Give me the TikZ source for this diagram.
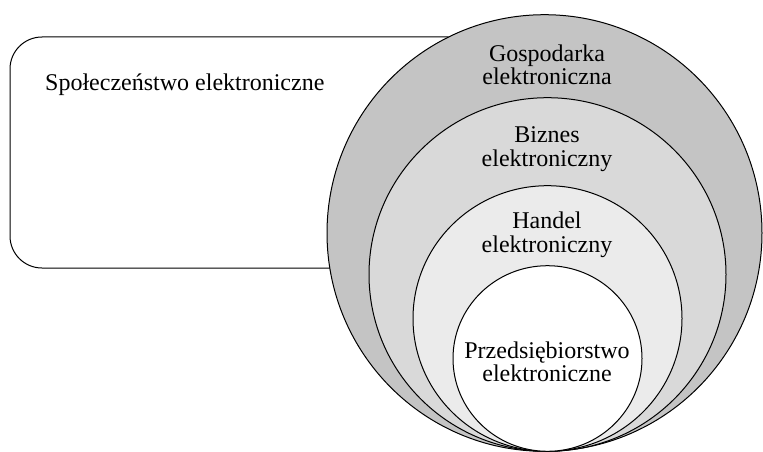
\documentclass[tikz,border=0pt]{standalone}
\usepackage{fontspec}
\setmainfont{Liberation Serif}
\definecolor{gA}{HTML}{C4C4C4}
\definecolor{gB}{HTML}{D9D9D9}
\definecolor{gC}{HTML}{EBEBEB}
\begin{document}
\begin{tikzpicture}[x=1pt,y=-1pt,
  lbl/.style={font=\fontsize{24}{23.5}\selectfont,align=center,inner sep=0pt},
  ring/.style={draw=black,line width=1pt}]
\useasboundingbox (0,0) rectangle (763,452);
\draw[ring,rounded corners=32pt] (10,37) rectangle (480,268);
\node[lbl,anchor=west] (soc) at (45,85) {Społeczeństwo elektroniczne};
\path[ring,fill=gA] (544.5,233) ellipse [x radius=217.5, y radius=218.3] coordinate (gosp);
\path[ring,fill=gB] (547.5,274.5) ellipse [x radius=178.5, y radius=176.8] coordinate (biz);
\path[ring,fill=gC] (547.5,318.5) ellipse [x radius=134.5, y radius=132.8] coordinate (han);
\path[ring,fill=white] (547.5,358.5) ellipse [x radius=94.5, y radius=92.8] coordinate (prz);
\node[lbl] (tg) at (547,65) {Gospodarka\\elektroniczna};
\node[lbl] (tb) at (547,149) {Biznes\\elektroniczny};
\node[lbl] (th) at (547,235) {Handel\\elektroniczny};
\node[lbl] (tp) at (547,362) {Przedsiębiorstwo\\elektroniczne};
\end{tikzpicture}
\end{document}
